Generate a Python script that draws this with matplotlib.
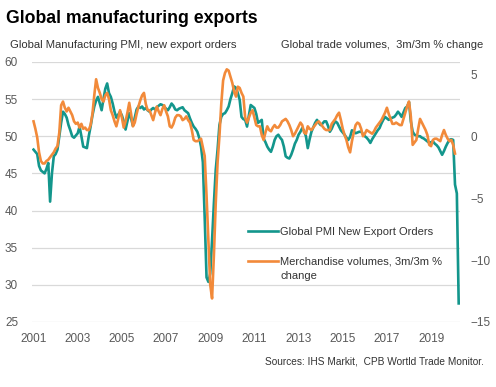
#! /usr/bin/env python3

import matplotlib
matplotlib.use("Agg")
import matplotlib.pyplot as plt
import numpy

"""
Données mensuelles, de janvier 2001 à avril 2020.
"""

# Global Manufacturing PMI, new export orders (index)
pmi_orders = [
    48.2, 47.9, 47.6, 46.0, 45.4, 45.2, 45.0, 45.6, 46.4, 41.2, 45.0, 47.3,  # 2001
    47.6, 48.2, 50.0, 51.8, 53.3, 53.0, 52.5, 51.5, 50.8, 50.0, 49.8, 50.1,  # 2002
    50.4, 51.3, 50.0, 48.6, 48.5, 48.4, 50.0, 51.3, 52.8, 54.0, 54.8, 55.3,  # 2003
    54.4, 53.5, 55.0, 56.4, 57.1, 55.8, 55.3, 54.4, 53.3, 52.5, 52.9, 53.3,  # 2004
    52.8, 52.0, 50.9, 52.0, 53.1, 52.4, 51.4, 52.5, 53.6, 54.0, 53.8, 54.0,  # 2005
    53.6, 53.8, 53.5, 53.3, 53.6, 53.8, 53.6, 53.9, 54.1, 54.3, 54.2, 54.0,  # 2006
    53.7, 53.5, 53.9, 54.4, 54.1, 53.6, 53.5, 53.7, 53.8, 53.9, 53.5, 53.3,  # 2007
    53.1, 52.4, 51.8, 51.3, 51.0, 50.6, 49.8, 48.6, 46.5, 39.0, 31.0, 30.4,  # 2008
    31.5, 36.0, 41.0, 45.5, 48.2, 51.5, 52.6, 53.0, 53.1, 53.5, 54.0, 55.0,  # 2009
    55.8, 56.7, 56.5, 55.8, 54.9, 52.6, 52.3, 52.2, 51.3, 52.8, 54.2, 54.0,  # 2010
    53.8, 53.0, 51.8, 52.0, 52.2, 49.7, 49.2, 48.6, 48.2, 47.9, 48.6, 49.5,  # 2011
    50.0, 50.2, 49.8, 49.5, 48.6, 47.3, 47.1, 47.0, 47.5, 48.2, 49.0, 49.5,  # 2012
    50.2, 50.6, 51.1, 50.7, 50.0, 48.4, 49.6, 50.6, 51.2, 51.8, 52.2, 51.8,  # 2013
    51.5, 51.7, 52.0, 52.0, 51.4, 50.6, 51.0, 51.6, 52.0, 51.8, 51.3, 50.8,  # 2014
    50.5, 50.2, 49.8, 49.5, 49.9, 50.8, 50.6, 50.4, 50.5, 50.6, 50.6, 50.3,  # 2015
    50.0, 49.8, 49.5, 49.1, 49.6, 50.0, 50.4, 50.8, 51.1, 51.7, 52.2, 52.6,  # 2016
    52.4, 52.2, 52.4, 52.5, 52.6, 52.9, 53.3, 53.0, 52.6, 53.2, 53.8, 54.0,  # 2017
    54.6, 52.0, 50.6, 50.2, 50.1, 50.0, 50.0, 49.8, 49.7, 49.5, 49.3, 49.1,  # 2018
    49.2, 49.3, 49.0, 48.8, 48.5, 48.0, 47.5, 48.0, 48.6, 49.1, 49.5, 49.6,  # 2019
    49.5, 43.5, 42.3, 27.5,                                                  # 2020
]

# Merchandise volumes, 3m/3m % change (CPB)
trade_volumes = [
    1.2, 0.6, -0.1, -1.3, -2.0, -2.2, -2.2, -2.0, -1.9, -1.7, -1.5, -1.3,  # 2001
    -1.0, -0.8, 0.3, 2.5, 2.8, 2.3, 2.0, 2.3, 2.0, 1.7, 1.2, 1.0,          # 2002
    1.1, 0.7, 1.0, 0.6, 0.7, 0.5, 0.5, 0.9, 1.8, 3.3, 4.6, 3.9,            # 2003
    3.5, 3.0, 2.8, 3.3, 3.5, 3.0, 2.1, 1.7, 1.2, 0.8, 1.4, 2.1,            # 2004
    1.5, 0.7, 1.2, 1.9, 2.7, 1.8, 0.8, 1.1, 1.8, 2.4, 2.9, 3.3,            # 2005
    3.5, 2.6, 2.1, 2.1, 1.7, 1.3, 1.9, 2.4, 2.0, 1.7, 2.2, 2.5,            # 2006
    2.0, 1.6, 0.8, 0.7, 1.0, 1.5, 1.7, 1.7, 1.6, 1.3, 1.4, 1.6,            # 2007
    1.3, 1.1, 0.5, -0.3, -0.4, -0.4, -0.3, -0.2, -0.9, -1.6, -4.8, -8.4,   # 2008
    -12.0, -13.1, -9.6, -5.4, -2.1, 0.0, 2.6, 4.5, 5.1, 5.4, 5.3, 4.8,     # 2009
    4.3, 3.6, 3.2, 4.0, 3.9, 3.5, 3.2, 1.5, 1.1, 1.5, 1.9, 2.1,            # 2010
    1.5, 0.9, 0.8, 0.8, 0.1, -0.3, 0.3, 0.8, 0.5, 0.4, 0.7, 0.9,           # 2011
    0.7, 0.7, 0.9, 1.2, 1.3, 1.4, 1.2, 0.9, 0.5, 0.0, 0.2, 0.5,            # 2012
    0.8, 1.1, 0.9, 0.3, 0.2, 0.8, 0.6, 0.5, 0.7, 0.9, 1.1, 1.2,            # 2013
    1.0, 0.8, 0.6, 0.5, 0.5, 0.5, 1.0, 1.2, 1.4, 1.7, 1.9, 1.3,            # 2014
    0.6, 0.1, -0.3, -0.9, -1.3, -0.4, 0.3, 0.9, 1.1, 1.0, 0.6, 0.0,        # 2015
    0.2, 0.5, 0.4, 0.3, 0.2, 0.4, 0.7, 0.9, 1.1, 1.3, 1.6, 1.9,            # 2016
    2.3, 1.8, 1.4, 1.0, 1.0, 1.1, 1.0, 0.9, 0.9, 1.4, 1.9, 2.4,            # 2017
    2.8, 1.6, -0.7, -0.5, -0.3, 0.6, 1.4, 1.1, 0.8, 0.5, 0.1, -0.7,        # 2018
    -0.8, -0.3, -0.2, -0.2, -0.3, -0.4, 0.1, 0.5, 0.1, -0.2, -0.4, -0.3,   # 2019
    -0.7, -1.4,                                                            # 2020
]

year_ticks = [2001, 2003, 2005, 2007, 2009, 2011, 2013, 2015, 2017, 2019]
left_ticks = [25, 30, 35, 40, 45, 50, 55, 60]
right_ticks = [-15, -10, -5, 0, 5]

t_pmi = 2001 + numpy.arange(len(pmi_orders)) / 12
t_trade = 2001 + numpy.arange(len(trade_volumes)) / 12

teal = "#13968c"
orange = "#f28a3a"
grey = "#595959"

"""
Graphe.
"""

plt.rcParams["font.family"] = ["Liberation Sans", "DejaVu Sans"]

fig = plt.figure(figsize=(4.96, 3.87), dpi=100)
ax = fig.add_axes([0.0645, 0.168, 0.8625, 0.672])
ax2 = ax.twinx()

ax.plot(t_pmi, pmi_orders, color=teal, lw=1.9,
        label="Global PMI New Export Orders", solid_joinstyle="round")
ax2.plot(t_trade, trade_volumes, color=orange, lw=1.9,
         label="Merchandise volumes, 3m/3m %", solid_joinstyle="round")

ax.set_xlim(2000.93, 2020.3)
ax.set_ylim(25, 60)
ax2.set_ylim(-15, 6)

ax.set_xticks(year_ticks)
ax.set_xticklabels([str(y) for y in year_ticks])
ax.set_yticks(left_ticks)
ax2.set_yticks(right_ticks)

ax.grid(axis="y", color="#d9d9d9", lw=0.9)
ax.set_axisbelow(True)
for a in (ax, ax2):
    for s in a.spines.values():
        s.set_visible(False)
    a.tick_params(length=0, colors=grey, labelsize=8.5)
ax.tick_params(axis="x", pad=8)
ax.tick_params(axis="y", pad=10)
ax2.tick_params(axis="y", pad=8)

fig.text(0.012, 0.953, "Global manufacturing exports", fontsize=12.7,
         fontweight="bold", va="center", ha="left", color="black")
fig.text(0.02, 0.884, "Global Manufacturing PMI, new export orders",
         fontsize=8.1, va="center", ha="left", color="#333333")
fig.text(0.975, 0.884, "Global trade volumes,  3m/3m % change",
         fontsize=8.0, va="center", ha="right", color="#333333")
fig.text(0.975, 0.065, "Sources: IHS Markit,  CPB Wortld Trade Monitor.",
         fontsize=7.3, va="center", ha="right", color="#333333")

h1, l1 = ax.get_legend_handles_labels()
h2, l2 = ax2.get_legend_handles_labels()
leg = ax2.legend(h1 + h2, l1 + l2, loc="upper left",
                 bbox_to_anchor=(248 / 496, 1 - 227 / 387),
                 bbox_transform=fig.transFigure, frameon=False,
                 fontsize=8.0, handlelength=2.7, handletextpad=0.2,
                 labelspacing=1.75, borderpad=0, borderaxespad=0)
for txt in leg.get_texts():
    txt.set_color("#333333")

# deuxième ligne du libellé, alignée sous la première
fig.canvas.draw()
bb = leg.get_texts()[1].get_window_extent().transformed(fig.transFigure.inverted())
fig.text(bb.x0, bb.y0 - 0.012, "change", fontsize=8.0, va="top",
         ha="left", color="#333333")

plt.savefig("out.png", dpi=100)
